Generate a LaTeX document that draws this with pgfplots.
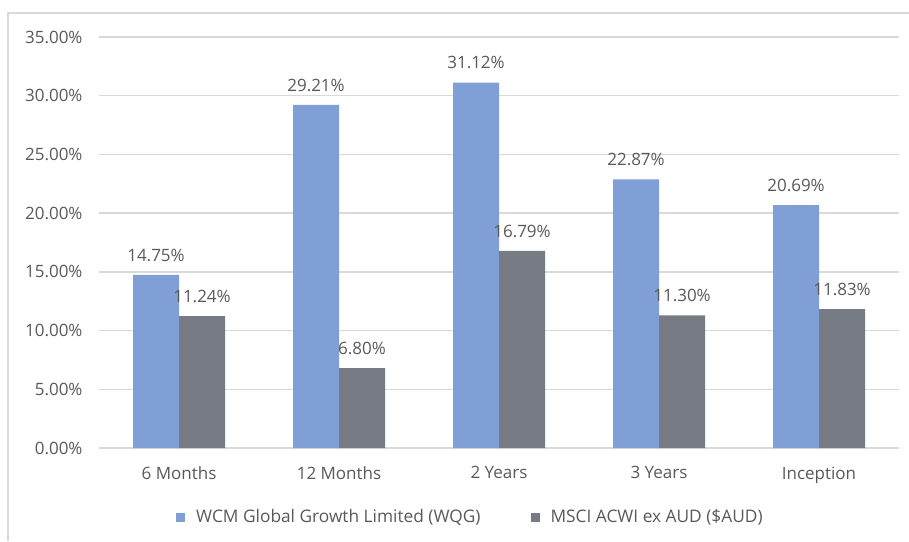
\documentclass[border=0pt]{standalone}
\usepackage{fontspec}
\setmainfont{Open Sans}
\usepackage{pgfplots}
\pgfplotsset{compat=1.18}
\definecolor{wblue}{HTML}{7F9FD6}
\definecolor{wgrey}{HTML}{767B84}
\definecolor{txt}{HTML}{595959}
\definecolor{gridc}{HTML}{D9D9D9}
\begin{document}
\begin{tikzpicture}[x=1pt,y=1pt]
\path[use as bounding box] (0,0) rectangle (909,541);
\draw[gridc, line width=1.3pt] (8,0) -- (8,528) -- (909,528);
\begin{axis}[
  at={(99pt,93pt)}, anchor=south west,
  scale only axis, width=800pt, height=411pt,
  xmin=-0.5, xmax=4.5, ymin=0, ymax=35,
  axis line style={draw=none},
  major tick length=0pt,
  ytick={0,5,10,15,20,25,30,35},
  xtick={0,1,2,3,4},
  xticklabels={6 Months,12 Months,2 Years,3 Years,Inception},
  ymajorgrids, grid style={gridc, line width=1.3pt},
  /pgf/number format/assume math mode=true,
  yticklabel={\pgfmathprintnumber[fixed,fixed zerofill,precision=2]{\tick}\%},
  yticklabel style={font=\fontsize{17}{20}\selectfont, text=txt, xshift=-13pt},
  xticklabel style={font=\fontsize{17}{20}\selectfont, text=txt, yshift=-15pt},
  ybar, bar width=46pt,
  nodes near coords={\pgfmathprintnumber[fixed,fixed zerofill,precision=2]{\pgfplotspointmeta}\%},
  nodes near coords style={font=\fontsize{17}{20}\selectfont, text=txt, yshift=10pt},
  legend style={at={(0.09625,-0.1679)}, anchor=west, draw=none, fill=none,
    inner sep=0pt, nodes={inner sep=0pt},
    legend columns=2, font=\fontsize{17.3}{20}\selectfont, text=txt,
    /tikz/every odd column/.append style={column sep=11pt},
    /tikz/every even column/.append style={column sep=50pt}},
  legend image code/.code={\fill[#1] (0pt,-4.5pt) rectangle (9pt,4.5pt);},
  clip=false,
]
\addplot[fill=wblue, draw=none, bar shift=-23pt] coordinates {(0,14.75) (1,29.21) (2,31.12) (3,22.87) (4,20.69)};
\addplot[fill=wgrey, draw=none, bar shift=23pt] coordinates {(0,11.24) (1,6.80) (2,16.79) (3,11.30) (4,11.83)};
\legend{WCM Global Growth Limited (WQG), MSCI ACWI ex AUD (\$AUD)}
\end{axis}
\end{tikzpicture}
\end{document}
